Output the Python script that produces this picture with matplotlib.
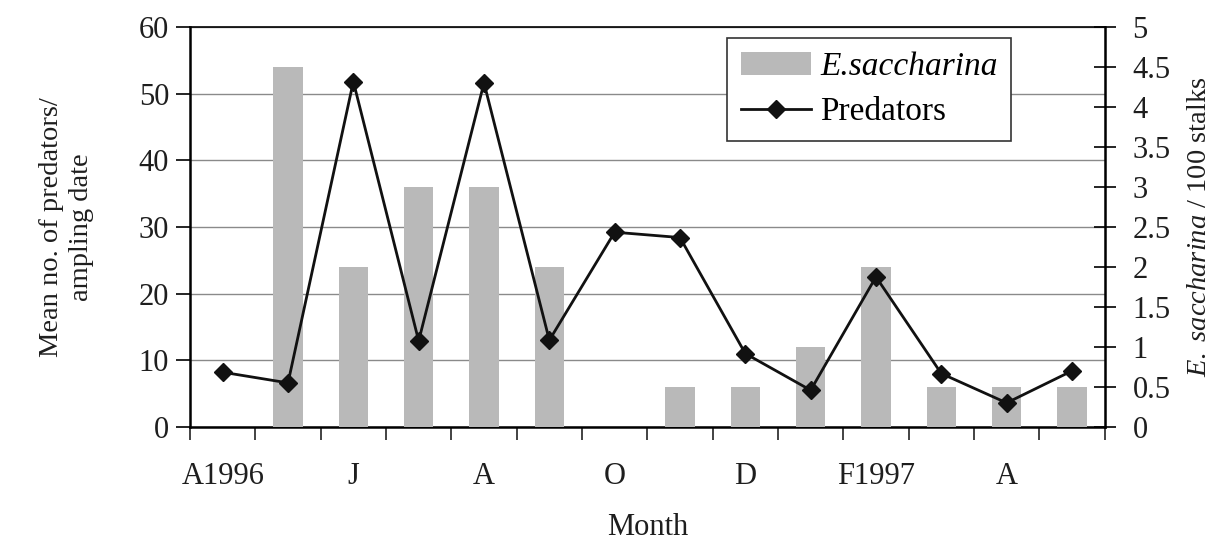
"""Monthly predator counts against E. saccharina density, 1996-1997."""

import matplotlib.pyplot as plt
import numpy as np
from matplotlib.ticker import FixedLocator, MultipleLocator

plt.rcParams["font.family"] = ["Liberation Serif", "DejaVu Serif"]
plt.rcParams["mathtext.fontset"] = "custom"
plt.rcParams["mathtext.rm"] = "Liberation Serif"
plt.rcParams["mathtext.it"] = "Liberation Serif:italic"

months = ["A1996", "M", "J", "J", "A", "S", "O", "N", "D", "J", "F1997", "M", "A", "M"]
shown_labels = {0, 2, 4, 6, 8, 10, 12}
saccharina_per_100 = [0, 4.5, 2, 3, 3, 2, 0, 0.5, 0.5, 1, 2, 0.5, 0.5, 0.5]
predators = [8.2, 6.6, 51.8, 12.9, 51.6, 13.0, 29.2, 28.4, 11.0, 5.5, 22.5, 8.0, 3.6, 8.4]

text_color = "#1e1e1e"
bar_color = "#b9b9b9"
fs = 22

fig = plt.figure(figsize=(12.26, 5.48), dpi=100)
ax = fig.add_axes([0.155, 0.221, 0.746, 0.730])
x = np.arange(len(months))

# left scale with grid, bars on the right scale, line drawn on top
ax_bars = ax.twinx()
ax_line = ax.twinx()

ax.set_ylim(0, 60)
ax.yaxis.set_major_locator(MultipleLocator(10))
ax.grid(axis="y", color="#8a8a8a", linewidth=1.0)
ax.set_xlim(-0.5, len(months) - 0.5)

ax_bars.bar(x, saccharina_per_100, width=0.45, color=bar_color, edgecolor="none",
            label="E.saccharina")
ax_bars.set_ylim(0, 5)
ax_bars.yaxis.set_major_locator(MultipleLocator(0.5))
ax_bars.yaxis.set_major_formatter(lambda v, pos: f"{v:g}")

ax_line.plot(x, predators, color="#111111", linewidth=2.0, marker="D",
             markersize=9, label="Predators")
ax_line.set_ylim(0, 60)
ax_line.set_xlim(-0.5, len(months) - 0.5)
ax_line.axis("off")

# month labels under the categories, tick marks between them
ax.set_xticks([i for i in x if i in shown_labels])
ax.set_xticklabels([months[i] for i in x if i in shown_labels])
ax.xaxis.set_minor_locator(FixedLocator(np.arange(-0.5, len(months), 1)))
ax.tick_params(axis="x", which="major", length=0, pad=25, labelsize=fs,
               labelcolor=text_color)
ax.tick_params(axis="x", which="minor", length=9, width=1.2, direction="out",
               color="#222222")
ax.tick_params(axis="y", length=10, width=1.2, pad=5, labelsize=fs,
               labelcolor=text_color)
ax_bars.tick_params(axis="y", direction="inout", length=16, width=1.2, pad=12,
                    labelsize=fs, labelcolor=text_color)

for spine in ["left", "bottom"]:
    ax.spines[spine].set_linewidth(1.8)
ax.spines["top"].set_linewidth(1.2)
ax_bars.spines["right"].set_linewidth(1.8)
for a in (ax_bars, ax_line):
    a.spines["top"].set_visible(False)
    a.spines["left"].set_visible(False)
    a.spines["bottom"].set_visible(False)

ax.set_xlabel("Month", fontsize=fs, color=text_color, labelpad=16)
ax.set_ylabel("Mean no. of predators/\nampling date", fontsize=20.5,
              color=text_color, labelpad=32, linespacing=1.3)
ax_bars.set_ylabel(r"$\mathit{E.\ saccharina}$ / 100 stalks", fontsize=20.5,
                   color=text_color, labelpad=12)

handles = [ax_bars.patches[0], ax_line.lines[0]]
leg = ax_line.legend(handles, ["E.saccharina", "Predators"],
                     loc="upper right", bbox_to_anchor=(0.898, 0.972),
                     borderaxespad=0, fontsize=24, frameon=True,
                     fancybox=False, edgecolor="#333333", framealpha=1,
                     handlelength=2.1, borderpad=0.4, labelspacing=0.45,
                     handletextpad=0.3)
leg.get_texts()[0].set_fontstyle("italic")
leg.get_frame().set_linewidth(1.2)

fig.savefig("out.png", dpi=100)
